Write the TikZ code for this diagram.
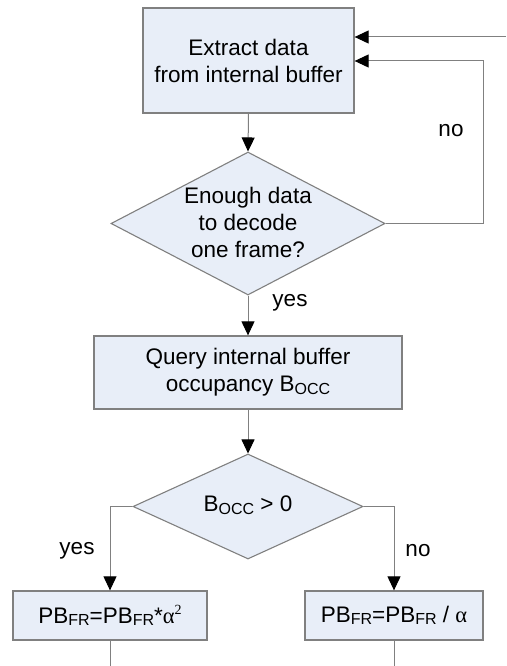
\documentclass[tikz,border=0pt]{standalone}
\usepackage{fontspec}
\setmainfont{Liberation Sans}
\newfontfamily\grkfont{Liberation Serif}
\usetikzlibrary{shapes.geometric,arrows.meta}
\newcommand\lowsub[1]{\raisebox{-2.5pt}{\fontsize{16}{16}\selectfont #1}}
\newcommand\alp{{\grkfont α}}
\newcommand\supsq{\raisebox{9pt}{\fontsize{14}{14}\selectfont\grkfont 2}}
\definecolor{boxfill}{HTML}{E8EEF8}
\definecolor{edgegray}{HTML}{808080}
\tikzset{
  procbox/.style={draw=edgegray, line width=1.3pt, fill=boxfill, rectangle, inner sep=0pt, align=center, font=\fontsize{22.5}{27}\selectfont},
  decbox/.style={draw=edgegray, line width=1.1pt, fill=boxfill, diamond, inner sep=0pt},
  dectext/.style={align=center, inner sep=0pt, font=\fontsize{22.5}{27}\selectfont},
  lbl/.style={inner sep=0pt, font=\fontsize{22.5}{27}\selectfont},
  conn/.style={draw=edgegray, line width=1pt, -{Triangle[length=14pt,width=13pt,fill=black,color=black]}},
  plainconn/.style={draw=edgegray, line width=1pt}
}
\begin{document}
\begin{tikzpicture}[x=1pt,y=-1pt]
\useasboundingbox[fill=white] (0,0) rectangle (506,666);
\node[procbox, minimum width=211pt, minimum height=105pt] (b1) at (248.5,60.5) {Extract data\\from internal buffer};
\node[decbox, minimum width=274pt, minimum height=143pt] (d1) at (248,223.5) {};
\node[dectext] (d1t) at (248,222.5) {Enough data\\to decode\\one frame?};
\node[procbox, minimum width=308pt, minimum height=73pt] (b2) at (248,372.5) {Query internal buffer\\occupancy B\lowsub{OCC}};
\node[decbox, minimum width=230pt, minimum height=105pt] (d2) at (248,506.5) {};
\node[dectext] (d2t) at (248,505) {B\lowsub{OCC} > 0};
\node[procbox, minimum width=194pt, minimum height=49pt] (b3) at (110,615.5) {PB\lowsub{FR}=PB\lowsub{FR}*\alp\supsq};
\node[procbox, minimum width=178pt, minimum height=49pt] (b4) at (394,615.5) {PB\lowsub{FR}=PB\lowsub{FR} / \alp};
\coordinate (in1) at (506,37);
\coordinate (nl) at (483,61);
\coordinate (e3) at (110,666);
\coordinate (e4) at (394,666);
\draw[conn] (in1) -- (in1 -| b1.east);
\draw[conn] (d1.east) -| (nl) -- (nl -| b1.east);
\draw[conn] (b1.south) -- (d1.north);
\draw[conn] (d1.south) -- (b2.north);
\draw[conn] (b2.south) -- (d2.north);
\draw[conn] (d2.west) -| (b3.north);
\draw[conn] (d2.east) -| (b4.north);
\draw[plainconn] (b3.south) -- (e3);
\draw[plainconn] (b4.south) -- (e4);
\node[lbl] (lno1) at (451,131) {no};
\node[lbl] (lyes1) at (290,303) {yes};
\node[lbl] (lyes2) at (77,551) {yes};
\node[lbl] (lno2) at (418,551) {no};
\end{tikzpicture}
\end{document}
